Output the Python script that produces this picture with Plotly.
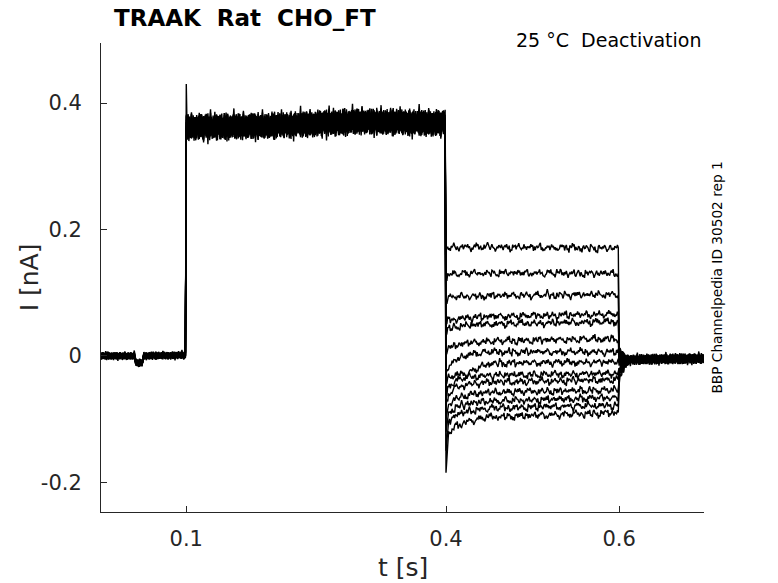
import numpy as np
import plotly.graph_objects as go

# ---- data (currents in nA, time in s) ----
# step protocol times
t_on = 0.1; t_off = 0.4; t_end_tail = 0.6; t_last = 0.7

# holding baseline before the step (small dip around 0.04 s)
pre_knots_t = [0.0, 0.040, 0.042, 0.049, 0.051, 0.0995]
pre_knots_i = [0.000, 0.000, -0.011, -0.011, 0.000, 0.001]
pre_offset = [0.001, -0.001, 0.000, 0.002, -0.002, 0.001, 0.000, -0.001, 0.002, 0.000, -0.002, 0.001, 0.000, -0.001]

# activating step level (0.1 - 0.4 s)
step_knots_t = [0.1, 0.2, 0.3, 0.3995]
step_knots_i = [0.362, 0.364, 0.371, 0.368]
step_offset = [0.004, -0.003, 0.000, 0.006, -0.005, 0.002, -0.001, 0.003, -0.004, 0.001, 0.005, -0.002, 0.000, -0.006]
spike_on = 0.43

# tail currents (0.4 - 0.6 s), one row per trace
tail_knots_t = [0.4, 0.403, 0.41, 0.425, 0.45, 0.5995]
tail_levels = [
    [0.165, 0.170, 0.172, 0.172, 0.172, 0.170],
    [0.122, 0.128, 0.130, 0.130, 0.131, 0.130],
    [0.085, 0.092, 0.093, 0.094, 0.095, 0.097],
    [0.050, 0.056, 0.058, 0.060, 0.062, 0.066],
    [0.036, 0.043, 0.046, 0.048, 0.050, 0.054],
    [0.005, 0.012, 0.016, 0.020, 0.023, 0.027],
    [-0.030, -0.018, -0.008, 0.002, 0.006, 0.006],
    [-0.045, -0.035, -0.030, -0.028, -0.012, -0.010],
    [-0.065, -0.050, -0.040, -0.034, -0.031, -0.028],
    [-0.080, -0.062, -0.052, -0.045, -0.042, -0.038],
    [-0.100, -0.078, -0.068, -0.062, -0.058, -0.054],
    [-0.120, -0.092, -0.082, -0.076, -0.072, -0.066],
    [-0.150, -0.105, -0.095, -0.088, -0.083, -0.078],
    [-0.185, -0.125, -0.112, -0.104, -0.097, -0.090],
]

# return to holding after 0.6 s
post_knots_t = [0.6, 0.604, 0.612, 0.65, 0.7]
post_start = [0.012, 0.008, 0.004, 0.000, -0.002, -0.006, -0.010, -0.014, -0.018, -0.022, -0.026, -0.030, -0.034, -0.040]
post_settle = [-0.008, -0.006, -0.004]

# recording noise (hand traced, relative units)
noise = [0.3, -0.6, 0.8, -0.2, -0.9, 0.5, 0.1, -0.4, 0.7, -0.8, 0.2, 0.9, -0.3, -0.7, 0.4, -0.1,
         0.6, -0.5, -0.9, 0.8, 0.0, -0.2, 0.5, -0.6, 0.9, -0.4, 0.2, -0.8, 0.3, 0.7, -0.5, 0.1,
         -0.3, 0.6, -0.9, 0.4, -0.1, 0.8, -0.6, 0.2, -0.7, 0.5, 0.9, -0.2, -0.4, 0.3, -0.8, 0.6,
         0.1, -0.5, 0.7, -0.3, -0.9, 0.4, 0.2, -0.6, 0.8, -0.1, -0.7, 0.5, 0.0, -0.4, 0.9, -0.8,
         0.3, -0.2, 0.6, -0.5, 0.1, 0.7, -0.9, 0.4, -0.3, 0.8, -0.6, 0.2, -0.1, 0.5, -0.7, 0.9,
         -0.4, 0.3, -0.8, 0.6, -0.2, 0.1, -0.5, 0.7, -0.3, 0.4, -0.9, 0.8, -0.6, 0.2, 0.5, -0.1,
         -0.7, 0.3, 0.9, -0.4, 0.6, -0.8, 0.1, -0.2, 0.7, -0.5, 0.4, -0.3, 0.8, -0.9, 0.2, 0.6,
         -0.6, 0.0, -0.4, 0.5, -0.7, 0.9, -0.1, 0.3, -0.8, 0.7, -0.2, 0.4, -0.5, 0.1, -0.9, 0.6,
         1.3, -0.2, 0.4, -1.2, 0.6, 0.1, -0.3, 0.8, -0.5]
# slower drift component of the tail traces (hand traced, relative units)
drift = [0.2, 0.5, -0.3, 0.1, 0.8, -0.4, -0.6, 0.3, 0.0, 0.6, -0.2, -0.8, 0.4, 0.7, -0.1, -0.5,
         0.3, 0.9, -0.3, 0.2, -0.7, 0.1, 0.5, -0.4, 0.6, -0.2, -0.9, 0.4, 0.1, 0.7, -0.6, 0.3, -0.1]
noise_amp_pre = 0.005
noise_amp_step = 0.018
noise_amp_tail = 0.004
drift_amp_tail = 0.005
noise_amp_post = 0.007

# x/y ticks
x_ticks = [0.1, 0.4, 0.6]
x_ticklabels = ["0.1", "0.4", "0.6"]
y_ticks = [-0.2, 0, 0.2, 0.4]
y_ticklabels = ["-0.2", "0", "0.2", "0.4"]

# ---- build traces ----
dt = 0.001
t = np.round(np.arange(0, t_last + dt / 2, dt), 4)
nz = np.array(noise)
dz = np.array(drift)

fig = go.Figure()
for j in range(len(tail_levels)):
    k = np.arange(len(t))
    n = nz[(k + 11 * j) % len(nz)]
    d = dz[(k // 3 + 5 * j) % len(dz)]
    y = np.empty_like(t)

    m = t < t_on
    y[m] = np.interp(t[m], pre_knots_t, pre_knots_i) + pre_offset[j] + noise_amp_pre * n[m]
    m = (t >= t_on) & (t < t_off)
    y[m] = np.interp(t[m], step_knots_t, step_knots_i) + step_offset[j] + noise_amp_step * n[m]
    if j == 0:
        y[np.argmax(t >= t_on)] = spike_on
    m = (t >= t_off) & (t < t_end_tail)
    y[m] = np.interp(t[m], tail_knots_t, tail_levels[j]) + noise_amp_tail * n[m] + drift_amp_tail * d[m]
    y[np.argmax(t >= t_off)] = tail_levels[j][0]
    m = t >= t_end_tail
    settle = post_settle[j % 3]
    y[m] = np.interp(t[m], post_knots_t,
                     [post_start[j], 0.5 * post_start[j] + 0.5 * settle, settle, settle + 0.001, settle + 0.002]) \
        + noise_amp_post * n[m]

    fig.add_trace(go.Scatter(x=t, y=y, mode="lines", line=dict(color="black", width=1.4),
                             showlegend=False, hoverinfo="skip"))

axis_col = "#262626"
fig.update_xaxes(range=[0.0015, 0.698], tickvals=x_ticks, ticktext=x_ticklabels,
                 ticks="inside", ticklen=6, tickcolor=axis_col, showline=True, linecolor=axis_col,
                 linewidth=1, showgrid=False, zeroline=False, ticklabelstandoff=8,
                 tickfont=dict(size=21, color=axis_col))
fig.update_yaxes(range=[-0.247, 0.495], tickvals=y_ticks, ticktext=y_ticklabels,
                 ticks="inside", ticklen=6, tickcolor=axis_col, showline=True, linecolor=axis_col,
                 linewidth=1, showgrid=False, zeroline=False, ticklabelstandoff=14,
                 tickfont=dict(size=21, color=axis_col))

fig.add_annotation(text="I [nA]", xref="paper", yref="paper", x=-0.118, y=0.5, textangle=-90,
                   showarrow=False, font=dict(size=25, color=axis_col), xanchor="center", yanchor="middle")
fig.add_annotation(text="t [s]", xref="paper", yref="paper", x=0.5, y=-0.118,
                   showarrow=False, font=dict(size=25, color=axis_col), xanchor="center", yanchor="middle")
fig.add_annotation(text="<b>TRAAK  Rat  CHO_FT</b>", xref="paper", yref="paper", x=0.019, y=1.053,
                   showarrow=False, font=dict(size=23, color="black"), xanchor="left", yanchor="middle")
fig.add_annotation(text="25 °C  Deactivation", xref="paper", yref="paper", x=0.998, y=1.006,
                   showarrow=False, font=dict(size=19, color="black"), xanchor="right", yanchor="middle")
fig.add_annotation(text="BBP Channelpedia ID 30502 rep 1", xref="paper", yref="paper", x=1.02, y=0.5,
                   textangle=-90, showarrow=False, font=dict(size=13.7, color="black"),
                   xanchor="center", yanchor="middle")

fig.update_layout(width=778, height=583, margin=dict(l=101, r=74, t=43, b=71),
                  plot_bgcolor="white", paper_bgcolor="white",
                  font=dict(family="DejaVu Sans", color=axis_col))

# drop the default page margin so the figure sits at the window's corner
fig.write_html("out.html", config=dict(displayModeBar=False),
               post_script="document.body.style.margin='0';document.body.style.overflow='hidden';")
